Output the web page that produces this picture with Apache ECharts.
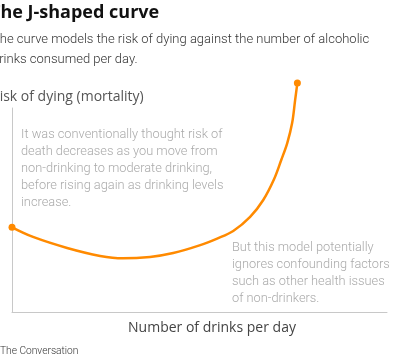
<!DOCTYPE html>
<html>
<head>
<meta charset="utf-8">
<script src="https://cdn.jsdelivr.net/npm/echarts@6/dist/echarts.min.js"></script>
<style>html,body{margin:0;padding:0;background:#fff;}#c{width:396px;height:360px;}</style>
</head>
<body>
<div id="c"></div>
<script>
// Curve: risk of dying vs number of drinks per day (arbitrary units)
const drinks = [0, 0.56, 1.47, 2.35, 2.96, 3.68, 4.30, 5.02, 5.47, 5.90, 6.35, 6.70, 6.99, 7.18, 7.34, 7.47, 7.55, 7.61];
const risk   = [4.15, 3.68, 3.14, 2.75, 2.63, 2.70, 2.89, 3.28, 3.60, 3.97, 4.66, 5.49, 6.52, 7.45, 8.28, 9.26, 10.39, 11.23];

const titleText = 'The J-shaped curve';
const subtitleLines = ['The curve models the risk of dying against the number of alcoholic', 'drinks consumed per day.'];
const yName = 'Risk of dying (mortality)';
const xName = 'Number of drinks per day';
const note1 = ['It was conventionally thought risk of', 'death decreases as you move from', 'non-drinking to moderate drinking,', 'before rising again as drinking levels', 'increase.'];
const note2 = ['But this model potentially', 'ignores confounding factors', 'such as other health issues', 'of non-drinkers.'];
const source = 'The Conversation';

const seriesData = drinks.map((d, i) => {
  const last = i === drinks.length - 1;
  const item = { value: [d, risk[i]] };
  if (i === 0 || last) { item.symbol = 'circle'; item.symbolSize = 7; }
  else { item.symbol = 'none'; }
  return item;
});

const chart = echarts.init(document.getElementById('c'), null, { renderer: 'canvas' });
chart.setOption({
  animation: false,
  backgroundColor: '#fff',
  grid: { left: 12, right: 9, top: 108, bottom: 48 },
  xAxis: {
    type: 'value', min: 0, max: 10,
    axisLine: { show: true, lineStyle: { color: '#c8c8c8', width: 1 } },
    axisTick: { show: false }, axisLabel: { show: false }, splitLine: { show: false },
    name: xName, nameLocation: 'middle', nameGap: 9,
    nameTextStyle: { fontFamily: 'Open Sans', fontSize: 14, color: '#444', padding: [0, 0, 0, 25], verticalAlign: 'top' }
  },
  yAxis: {
    type: 'value', min: 0, max: 10,
    axisLine: { show: true, lineStyle: { color: '#c8c8c8', width: 1 } },
    axisTick: { show: false }, axisLabel: { show: false }, splitLine: { show: false }
  },
  series: [{
    type: 'line', data: seriesData, smooth: 0.35, clip: false,
    lineStyle: { color: '#FF8A00', width: 2.5 },
    itemStyle: { color: '#FF8A00' }
  }],
  graphic: [
    { type: 'text', style: { text: titleText, x: -10, y: 13, verticalAlign: 'middle', font: 'bold 18px "Open Sans"', fill: '#111' } },
    { type: 'text', style: { text: subtitleLines.join('\n'), x: -8, y: 29.5, verticalAlign: 'top', lineHeight: 20, font: '300 13px Roboto', fill: '#333' } },
    { type: 'text', style: { text: yName, x: -9, y: 97, verticalAlign: 'middle', font: '14px "Open Sans"', fill: '#555' } },
    { type: 'text', style: { text: note1.join('\n'), x: 21, y: 126.5, verticalAlign: 'top', lineHeight: 17, font: '300 12.8px Roboto', fill: '#aaa' } },
    { type: 'text', style: { text: note2.join('\n'), x: 232, y: 239.5, verticalAlign: 'top', lineHeight: 17, font: '300 12.8px Roboto', fill: '#aaa' } },
    { type: 'text', style: { text: source, x: 0, y: 351, verticalAlign: 'middle', font: '300 10.2px Roboto', fill: '#333' } }
  ]
});
</script>
</body>
</html>
